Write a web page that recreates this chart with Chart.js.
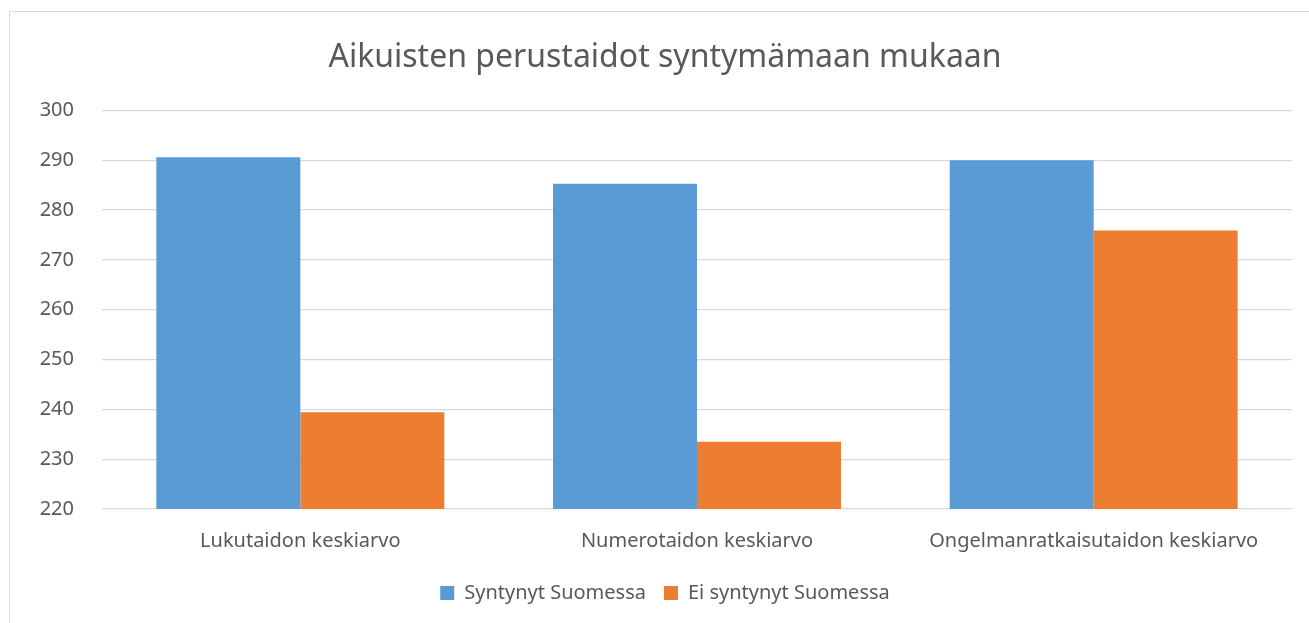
<!DOCTYPE html>
<html>
<head>
<meta charset="utf-8">
<script src="https://cdn.jsdelivr.net/npm/chart.js@4/dist/chart.umd.min.js"></script>
<style>
  html, body { margin: 0; padding: 0; background: #fff; overflow: hidden; }
  #frame {
    position: absolute; left: 9px; top: 11px; width: 1320px; height: 640px;
    border-left: 1.5px solid #d9d9d9; border-top: 1.5px solid #d9d9d9;
  }
  #wrap { position: absolute; left: 0; top: 0; width: 1309px; height: 623px; }
</style>
</head>
<body>
<div id="frame"></div>
<div id="wrap"><canvas id="chart"></canvas></div>
<script>
// Aikuisten perustaidot - pylväskaavio

const categories = ['Lukutaidon keskiarvo', 'Numerotaidon keskiarvo', 'Ongelmanratkaisutaidon keskiarvo'];
const syntynytSuomessa = [290.6, 285.3, 290.0];
const eiSyntynytSuomessa = [239.4, 233.5, 275.9];
const seriesNames = ['Syntynyt Suomessa', 'Ei syntynyt Suomessa'];
const yMin = 220;
const yMax = 300;
const yStep = 10;

const textColor = '#595959';
const gridColor = '#d9d9d9';
const fontFamily = "'Noto Sans', 'Open Sans', sans-serif";

const ctx = document.getElementById('chart');

new Chart(ctx, {
    type: 'bar',
    data: {
        labels: categories,
        datasets: [
            {
                label: seriesNames[0],
                data: syntynytSuomessa,
                backgroundColor: '#5B9BD5',
                borderWidth: 0
            },
            {
                label: seriesNames[1],
                data: eiSyntynytSuomessa,
                backgroundColor: '#ED7D31',
                borderWidth: 0
            }
        ]
    },
    options: {
        responsive: true,
        maintainAspectRatio: false,
        animation: false,
        categoryPercentage: 0.726,
        barPercentage: 1.0,
        layout: {
            // links 38 niin että otsikko keskittyy kehykseen
            padding: { top: 20, right: 17, bottom: 10, left: 38 }
        },
        scales: {
            x: {
                grid: { display: false },
                border: { display: false },
                ticks: {
                    color: textColor,
                    font: { family: fontFamily, size: 20 },
                    padding: 12,
                    maxRotation: 0
                }
            },
            y: {
                min: yMin,
                max: yMax,
                grid: { color: gridColor, lineWidth: 1.3, drawTicks: false },
                border: { display: false },
                ticks: {
                    stepSize: yStep,
                    color: textColor,
                    font: { family: fontFamily, size: 20 },
                    padding: 28
                },
                afterFit(scale) { scale.width = 64; }
            }
        },
        plugins: {
            title: {
                display: true,
                text: 'Aikuisten perustaidot syntymämaan mukaan',
                color: textColor,
                font: { family: fontFamily, size: 32, weight: 'normal' },
                padding: { top: 19, bottom: 33 }
            },
            legend: {
                position: 'bottom',
                labels: {
                    color: textColor,
                    font: { family: fontFamily, size: 20 },
                    boxWidth: 14,
                    boxHeight: 14,
                    padding: 18
                }
            },
            tooltip: { enabled: false }
        }
    }
});
</script>
</body>
</html>
